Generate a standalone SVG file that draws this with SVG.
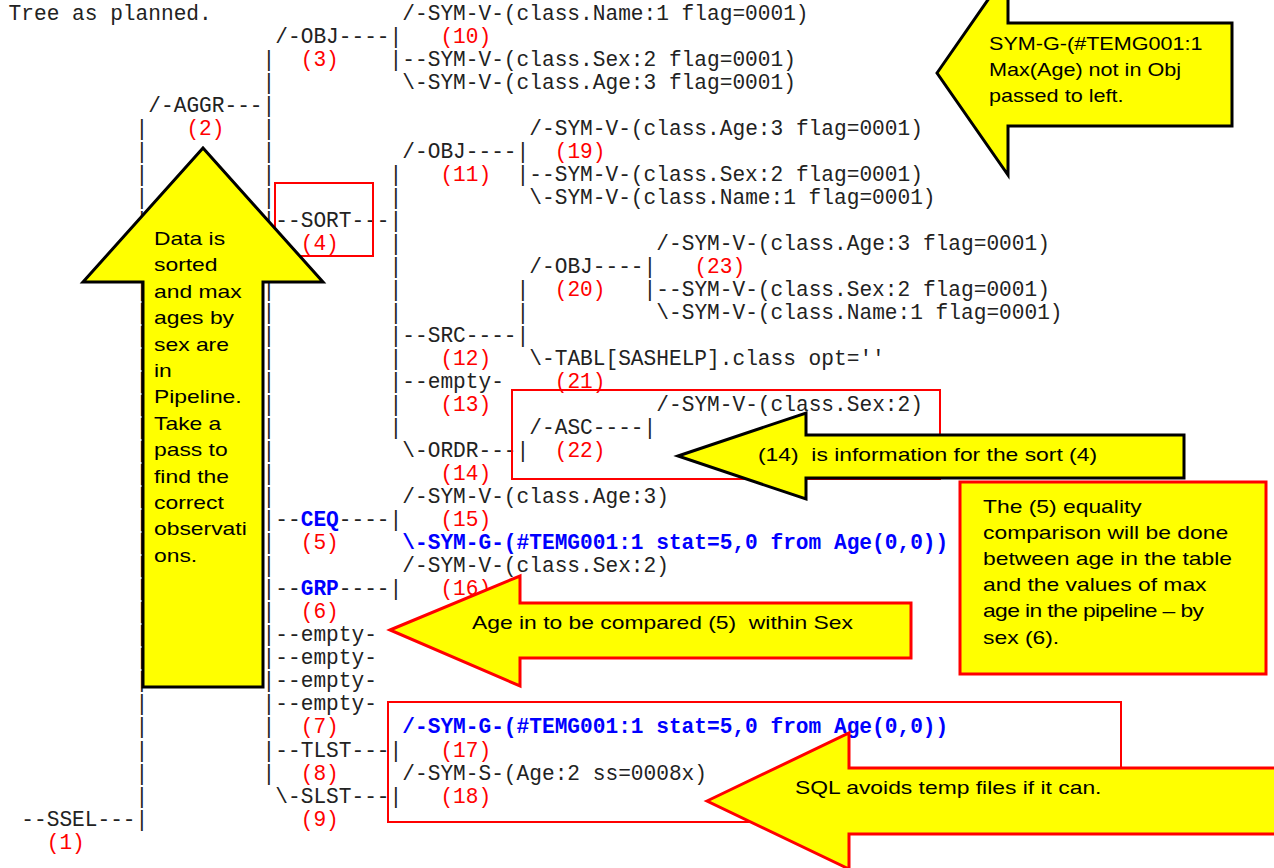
<svg xmlns="http://www.w3.org/2000/svg" width="1274" height="868" viewBox="0 0 1274 868">
<style>
.t{font-family:"Liberation Mono","DejaVu Sans Mono",monospace;font-size:21.17px;fill:#222;}
.n{fill:#ff0000;}
.b{fill:#0000ff;font-weight:bold;}
.c{font-family:"Liberation Sans",Arial,sans-serif;font-size:18px;fill:#000;white-space:pre;}
.y{fill:#ffff00;stroke-linejoin:miter;}
.kb{stroke:#000;stroke-width:3;}
.kr{stroke:#ff0000;stroke-width:3;}
.box{fill:none;stroke:#ff0000;stroke-width:2;}
</style>
<rect width="1274" height="868" fill="#fff"/>
<g id="tree">
<text class="t" y="19.5"><tspan x="8.6">Tree as planned.</tspan><tspan x="402.3">/-SYM-V-(class.Name:1 flag=0001)</tspan></text>
<text class="t" y="42.5"><tspan x="275.3">/-OBJ----|</tspan><tspan x="440.4" class="n">(10)</tspan></text>
<text class="t" y="65.6"><tspan x="262.6">|</tspan><tspan x="300.7" class="n">(3)</tspan><tspan x="389.6">|--SYM-V-(class.Sex:2 flag=0001)</tspan></text>
<text class="t" y="88.6"><tspan x="262.6">|</tspan><tspan x="402.3">\-SYM-V-(class.Age:3 flag=0001)</tspan></text>
<text class="t" y="111.6"><tspan x="148.3">/-AGGR---|</tspan></text>
<text class="t" y="134.7"><tspan x="135.6">|</tspan><tspan x="186.4" class="n">(2)</tspan><tspan x="262.6">|</tspan><tspan x="529.3">/-SYM-V-(class.Age:3 flag=0001)</tspan></text>
<text class="t" y="157.7"><tspan x="135.6">|</tspan><tspan x="262.6">|</tspan><tspan x="402.3">/-OBJ----|</tspan><tspan x="554.7" class="n">(19)</tspan></text>
<text class="t" y="180.7"><tspan x="135.6">|</tspan><tspan x="262.6">|</tspan><tspan x="389.6">|</tspan><tspan x="440.4" class="n">(11)</tspan><tspan x="516.6">|--SYM-V-(class.Sex:2 flag=0001)</tspan></text>
<text class="t" y="203.7"><tspan x="135.6">|</tspan><tspan x="262.6">|</tspan><tspan x="389.6">|</tspan><tspan x="529.3">\-SYM-V-(class.Name:1 flag=0001)</tspan></text>
<text class="t" y="226.8"><tspan x="135.6">|</tspan><tspan x="262.6">|--SORT---|</tspan></text>
<text class="t" y="249.8"><tspan x="135.6">|</tspan><tspan x="262.6">|</tspan><tspan x="300.7" class="n">(4)</tspan><tspan x="389.6">|</tspan><tspan x="656.3">/-SYM-V-(class.Age:3 flag=0001)</tspan></text>
<text class="t" y="272.8"><tspan x="135.6">|</tspan><tspan x="262.6">|</tspan><tspan x="389.6">|</tspan><tspan x="529.3">/-OBJ----|</tspan><tspan x="694.4" class="n">(23)</tspan></text>
<text class="t" y="295.9"><tspan x="135.6">|</tspan><tspan x="262.6">|</tspan><tspan x="389.6">|</tspan><tspan x="516.6">|</tspan><tspan x="554.7" class="n">(20)</tspan><tspan x="643.6">|--SYM-V-(class.Sex:2 flag=0001)</tspan></text>
<text class="t" y="318.9"><tspan x="135.6">|</tspan><tspan x="262.6">|</tspan><tspan x="389.6">|</tspan><tspan x="516.6">|</tspan><tspan x="656.3">\-SYM-V-(class.Name:1 flag=0001)</tspan></text>
<text class="t" y="341.9"><tspan x="135.6">|</tspan><tspan x="262.6">|</tspan><tspan x="389.6">|--SRC----|</tspan></text>
<text class="t" y="365.0"><tspan x="135.6">|</tspan><tspan x="262.6">|</tspan><tspan x="389.6">|</tspan><tspan x="440.4" class="n">(12)</tspan><tspan x="529.3">\-TABL[SASHELP].class opt=''</tspan></text>
<text class="t" y="388.0"><tspan x="135.6">|</tspan><tspan x="262.6">|</tspan><tspan x="389.6">|--empty-</tspan><tspan x="554.7" class="n">(21)</tspan></text>
<text class="t" y="411.0"><tspan x="135.6">|</tspan><tspan x="262.6">|</tspan><tspan x="389.6">|</tspan><tspan x="440.4" class="n">(13)</tspan><tspan x="656.3">/-SYM-V-(class.Sex:2)</tspan></text>
<text class="t" y="434.0"><tspan x="135.6">|</tspan><tspan x="262.6">|</tspan><tspan x="389.6">|</tspan><tspan x="529.3">/-ASC----|</tspan></text>
<text class="t" y="457.1"><tspan x="135.6">|</tspan><tspan x="262.6">|</tspan><tspan x="402.3">\-ORDR---|</tspan><tspan x="554.7" class="n">(22)</tspan></text>
<text class="t" y="480.1"><tspan x="135.6">|</tspan><tspan x="262.6">|</tspan><tspan x="440.4" class="n">(14)</tspan></text>
<text class="t" y="503.1"><tspan x="135.6">|</tspan><tspan x="262.6">|</tspan><tspan x="402.3">/-SYM-V-(class.Age:3)</tspan></text>
<text class="t" y="526.2"><tspan x="135.6">|</tspan><tspan x="262.6">|--</tspan><tspan class="b">CEQ</tspan><tspan>----|</tspan><tspan x="440.4" class="n">(15)</tspan></text>
<text class="t" y="549.2"><tspan x="135.6">|</tspan><tspan x="262.6">|</tspan><tspan x="300.7" class="n">(5)</tspan><tspan x="402.3" class="b">\-SYM-G-(#TEMG001:1 stat=5,0 from Age(0,0))</tspan></text>
<text class="t" y="572.2"><tspan x="135.6">|</tspan><tspan x="262.6">|</tspan><tspan x="402.3">/-SYM-V-(class.Sex:2)</tspan></text>
<text class="t" y="595.3"><tspan x="135.6">|</tspan><tspan x="262.6">|--</tspan><tspan class="b">GRP</tspan><tspan>----|</tspan><tspan x="440.4" class="n">(16)</tspan></text>
<text class="t" y="618.3"><tspan x="135.6">|</tspan><tspan x="262.6">|</tspan><tspan x="300.7" class="n">(6)</tspan></text>
<text class="t" y="641.3"><tspan x="135.6">|</tspan><tspan x="262.6">|--empty-</tspan></text>
<text class="t" y="664.3"><tspan x="135.6">|</tspan><tspan x="262.6">|--empty-</tspan></text>
<text class="t" y="687.4"><tspan x="135.6">|</tspan><tspan x="262.6">|--empty-</tspan></text>
<text class="t" y="710.4"><tspan x="135.6">|</tspan><tspan x="262.6">|--empty-</tspan></text>
<text class="t" y="733.4"><tspan x="135.6">|</tspan><tspan x="262.6">|</tspan><tspan x="300.7" class="n">(7)</tspan><tspan x="402.3" class="b">/-SYM-G-(#TEMG001:1 stat=5,0 from Age(0,0))</tspan></text>
<text class="t" y="756.5"><tspan x="135.6">|</tspan><tspan x="262.6">|--TLST---|</tspan><tspan x="440.4" class="n">(17)</tspan></text>
<text class="t" y="779.5"><tspan x="135.6">|</tspan><tspan x="262.6">|</tspan><tspan x="300.7" class="n">(8)</tspan><tspan x="402.3">/-SYM-S-(Age:2 ss=0008x)</tspan></text>
<text class="t" y="802.5"><tspan x="135.6">|</tspan><tspan x="275.3">\-SLST---|</tspan><tspan x="440.4" class="n">(18)</tspan></text>
<text class="t" y="825.6"><tspan x="21.3">--SSEL---|</tspan><tspan x="300.7" class="n">(9)</tspan></text>
<text class="t" y="848.6"><tspan x="46.7" class="n">(1)</tspan></text>
</g>
<g id="highlights">
<rect class="box" x="275" y="183" width="98" height="73"/>
<rect class="box" x="512" y="390" width="428" height="89"/>
<rect class="box" x="388" y="702" width="733" height="120"/>
</g>
<g id="callout-top">
<polygon class="y kb" points="937,73 1008,-29 1008,23 1232,23 1232,126 1008,126 1008,175"/>
<text class="c" transform="translate(989,50) scale(1.2,1)"><tspan x="0" y="0">SYM-G-(#TEMG001:1</tspan><tspan x="0" y="26">Max(Age) not in Obj</tspan><tspan x="0" y="52">passed to left.</tspan></text>
</g>
<g id="callout-data">
<polygon class="y kb" points="203,148 323,282 263,282 263,687 143,687 143,282 83,282"/>
<text class="c" transform="translate(154,245) scale(1.27,1)"><tspan x="0" y="0">Data is</tspan><tspan x="0" y="26.4">sorted</tspan><tspan x="0" y="52.8">and max</tspan><tspan x="0" y="79.2">ages by</tspan><tspan x="0" y="105.6">sex are</tspan><tspan x="0" y="132">in</tspan><tspan x="0" y="158.4">Pipeline.</tspan><tspan x="0" y="184.8">Take a</tspan><tspan x="0" y="211.2">pass to</tspan><tspan x="0" y="237.6">find the</tspan><tspan x="0" y="264">correct</tspan><tspan x="0" y="290.4">observati</tspan><tspan x="0" y="316.8">ons.</tspan></text>
</g>
<g id="callout-sort">
<polygon class="y kb" points="678,456 806,413 806,435 1184,435 1184,478 806,478 806,499"/>
<text class="c" transform="translate(758,461) scale(1.27,1)">(14)  is information for the sort (4)</text>
</g>
<g id="callout-equality">
<rect class="y kr" x="960" y="482" width="306" height="192"/>
<text class="c" transform="translate(983,513) scale(1.27,1)"><tspan x="0" y="0">The (5) equality</tspan><tspan x="0" y="26">comparison will be done</tspan><tspan x="0" y="52">between age in the table</tspan><tspan x="0" y="78">and the values of max</tspan><tspan x="0" y="104" textLength="174" lengthAdjust="spacing">age in the pipeline – by</tspan><tspan x="0" y="131">sex (6).</tspan></text>
</g>
<g id="callout-group">
<polygon class="y kr" points="390,630 520,576 520,603 911,603 911,658 520,658 520,686"/>
<text class="c" transform="translate(472,629) scale(1.27,1)">Age in to be compared (5)  within Sex</text>
</g>
<g id="callout-sql">
<polygon class="y kr" points="707,801 849,733 849,768 1290,768 1290,834 849,834 849,869"/>
<text class="c" transform="translate(795,794) scale(1.27,1)">SQL avoids temp files if it can.</text>
</g>
<g id="connectors"></g>
</svg>
